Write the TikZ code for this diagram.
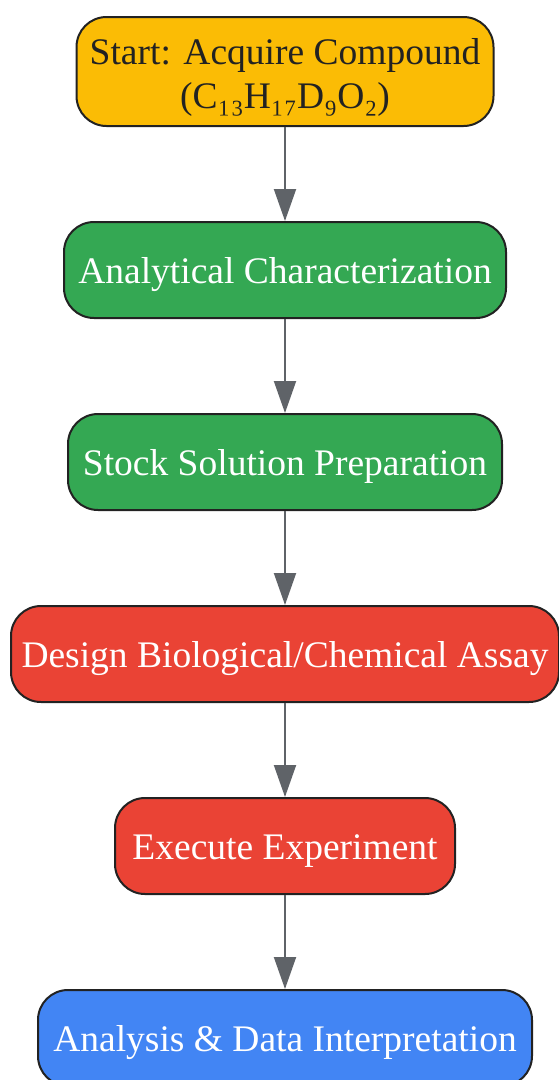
\documentclass[tikz,border=0pt]{standalone}
\usepackage{fontspec}
\setmainfont{Liberation Serif}
\usetikzlibrary{arrows.meta}
\newcount\mycount
\definecolor{cYellow}{HTML}{FBBC05}
\definecolor{cGreen}{HTML}{34A853}
\definecolor{cRed}{HTML}{EA4335}
\definecolor{cBlue}{HTML}{4285F4}
\definecolor{cLine}{HTML}{5F6368}
\definecolor{cBorder}{HTML}{222222}
\begin{document}
\begin{tikzpicture}[x=1pt,y=-1pt,
    stepbox/.style={draw=cBorder,line width=2pt,rounded corners=30pt,
      minimum height=96pt,align=center,text=white,
      text height=26.6pt,text depth=0pt,
      font=\fontsize{37.5}{44}\selectfont},
    flow/.style={draw=cLine,line width=2pt,
      -{Triangle[length=32pt,width=22pt]}}]
    \useasboundingbox (0,0) rectangle (558,1080);
    % the six steps, top to bottom
    \node[stepbox,fill=cYellow,text=cBorder,minimum width=417pt,minimum height=109pt,
      text height=73pt] (N-1) at (285,71.5) {Start: Acquire Compound\\(C₁₃H₁₇D₉O₂)};
    \node[stepbox,fill=cGreen,minimum width=442pt] (N-2) at (285,270) {Analytical Characterization};
    \node[stepbox,fill=cGreen,minimum width=434pt] (N-3) at (285,462) {Stock Solution Preparation};
    \node[stepbox,fill=cRed,minimum width=548pt] (N-4) at (285,654) {Design Biological/Chemical Assay};
    \node[stepbox,fill=cRed,minimum width=340pt] (N-5) at (285,846) {Execute Experiment};
    \node[stepbox,fill=cBlue,minimum width=494pt] (N-6) at (285,1038) {Analysis \& Data Interpretation};
    % connectors
    \foreach \number in {1,...,5}{
          \mycount=\number
          \advance\mycount by 1
      \draw[flow] (N-\number.south) -- (N-\the\mycount.north);
    }
\end{tikzpicture}
\end{document}
